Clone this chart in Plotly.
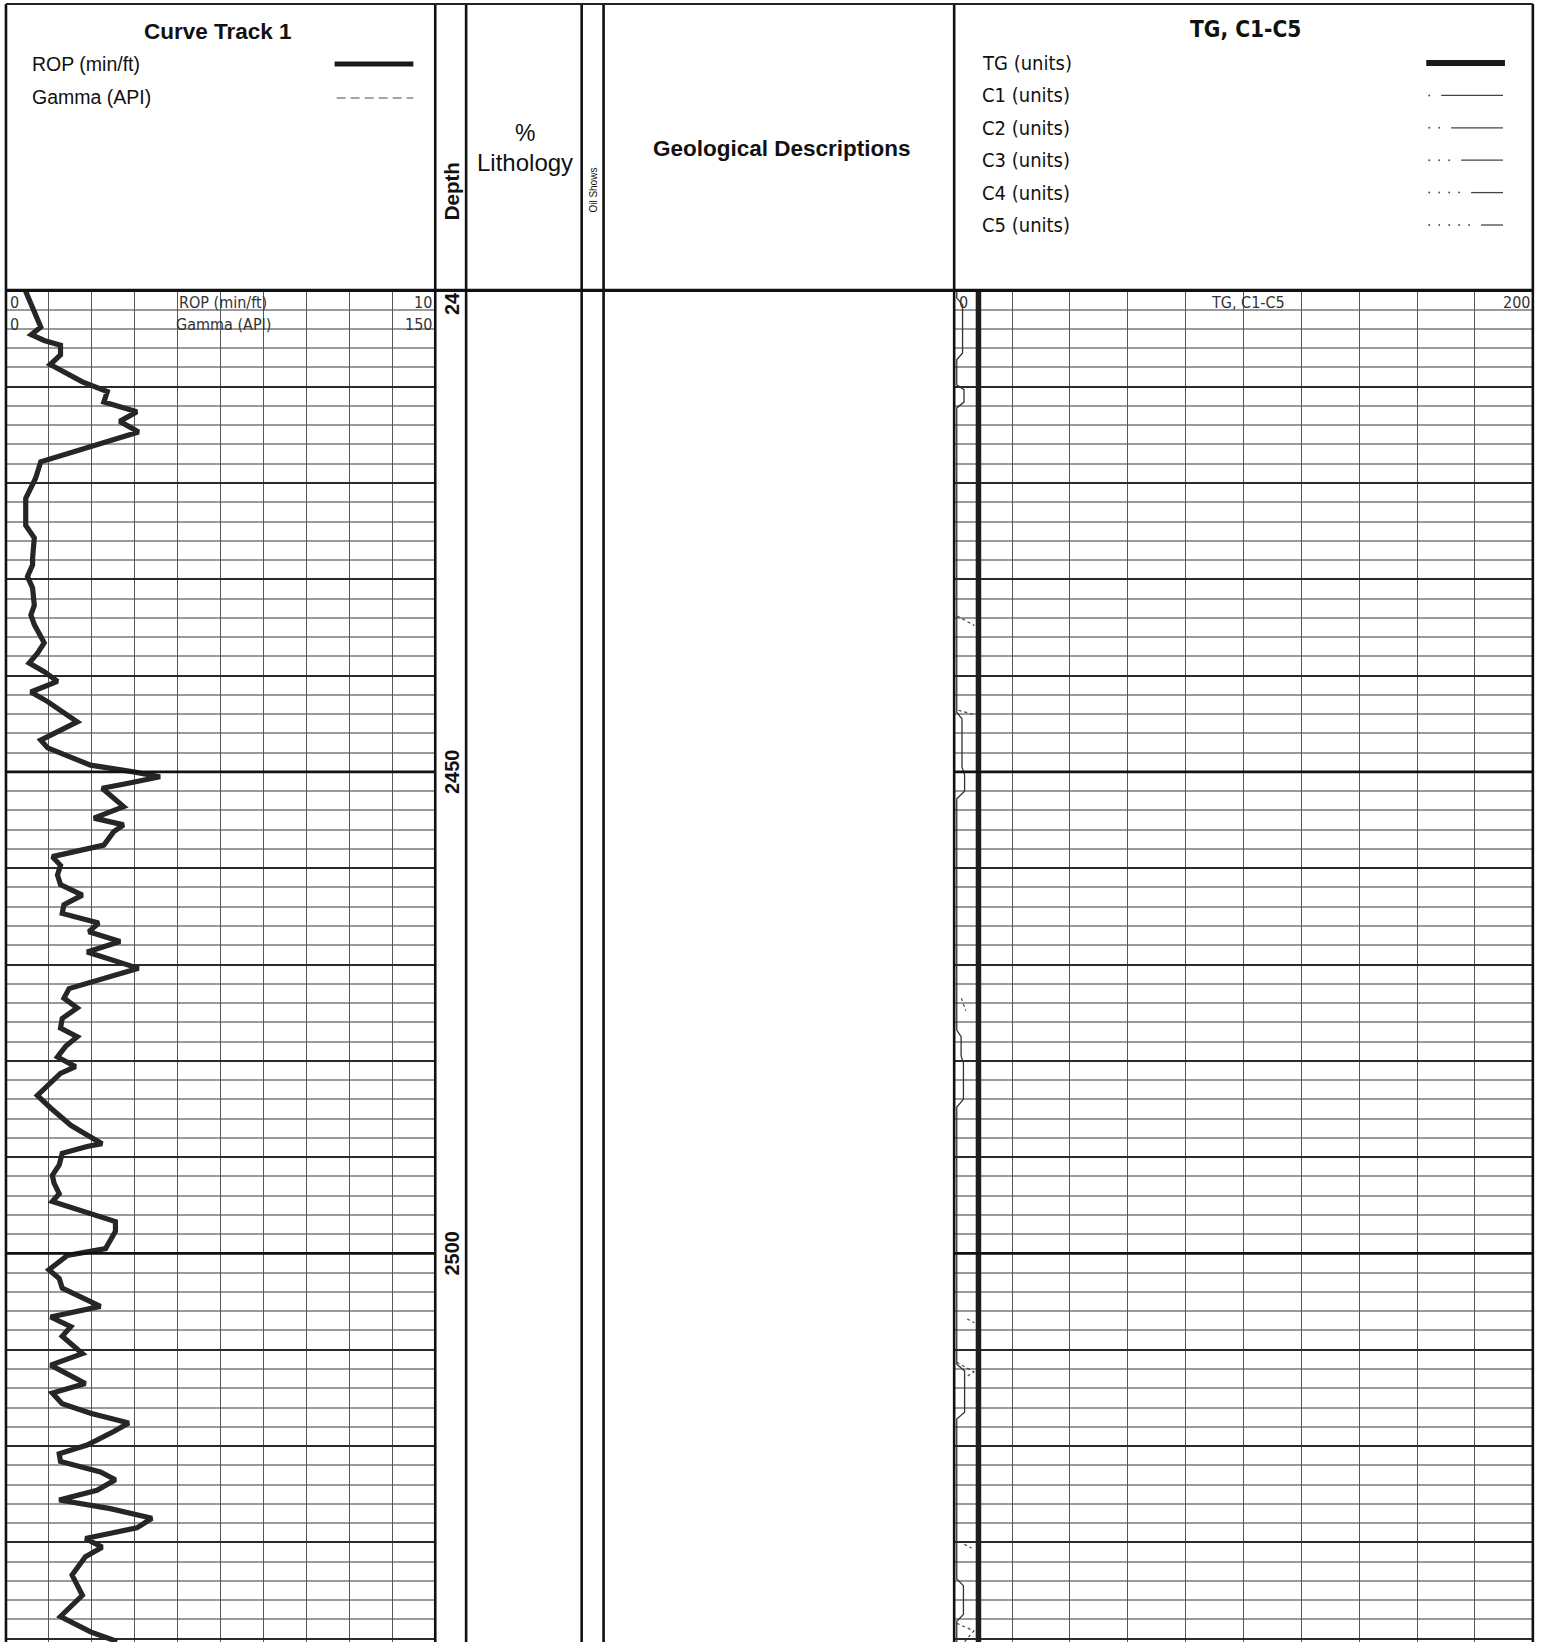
import plotly.graph_objects as go

W, H = 1543, 1642

# ---------------- data ----------------
ROP_DEPTH = [2400.0, 2401.9, 2402.9, 2403.8, 2404.6, 2405.2, 2405.7, 2406.7, 2407.7, 2409.5,
             2410.5, 2411.6, 2412.6, 2413.6, 2414.7, 2417.8, 2419.5, 2421.6, 2424.4, 2425.7,
             2427.8, 2428.5, 2429.7, 2430.9, 2432.7, 2433.7, 2434.7, 2436.6, 2437.7, 2438.7,
             2439.6, 2440.6, 2441.7, 2442.7, 2444.8, 2446.7, 2447.5, 2449.3, 2450.0, 2450.5,
             2451.2, 2451.7, 2453.6, 2454.8, 2455.5, 2456.2, 2457.6, 2458.8, 2459.7, 2460.7,
             2461.7, 2462.8, 2463.8, 2464.7, 2465.7, 2466.6, 2467.6, 2468.7, 2470.4, 2472.5,
             2473.5, 2474.5, 2475.6, 2476.6, 2477.5, 2478.5, 2479.6, 2480.6, 2481.3, 2483.6,
             2484.9, 2486.7, 2487.5, 2488.6, 2488.9, 2489.6, 2490.8, 2491.9, 2492.7, 2493.8,
             2494.6, 2496.7, 2497.7, 2499.5, 2500.2, 2501.7, 2502.6, 2503.6, 2505.5, 2506.6,
             2507.6, 2508.6, 2510.4, 2511.6, 2513.5, 2514.5, 2515.6, 2516.6, 2517.6, 2518.5,
             2519.9, 2520.8, 2521.6, 2522.7, 2523.5, 2524.6, 2525.6, 2526.5, 2527.5, 2528.5,
             2529.6, 2530.5, 2531.5, 2533.4, 2535.5, 2537.7, 2539.3, 2540.3]
ROP_VALUE = [0.45, 0.62, 0.73, 0.81, 0.59, 0.89, 1.27, 1.27, 1.03, 1.78,
             2.36, 2.28, 3.05, 2.65, 3.09, 0.81, 0.69, 0.46, 0.46, 0.66,
             0.62, 0.62, 0.50, 0.62, 0.66, 0.58, 0.66, 0.89, 0.73, 0.54,
             0.89, 1.20, 0.58, 0.97, 1.66, 0.81, 0.97, 1.97, 2.97, 3.59,
             2.82, 2.24, 2.74, 2.05, 2.74, 2.51, 2.28, 1.08, 1.27, 1.20,
             1.27, 1.78, 1.35, 1.31, 2.16, 1.93, 2.66, 1.89, 3.09, 1.47,
             1.35, 1.66, 1.31, 1.27, 1.66, 1.39, 1.20, 1.62, 1.27, 0.73,
             1.04, 1.51, 1.81, 2.24, 1.89, 1.31, 1.24, 1.08, 1.12, 1.24,
             1.08, 2.55, 2.55, 2.32, 1.43, 1.00, 1.24, 1.31, 2.20, 1.04,
             1.51, 1.31, 1.78, 1.04, 1.85, 1.08, 1.31, 1.97, 2.86, 2.51,
             1.89, 1.24, 1.27, 2.20, 2.55, 2.12, 1.24, 2.43, 3.40, 3.05,
             1.85, 2.24, 1.85, 1.54, 1.78, 1.27, 1.97, 2.59]

TG_DEPTH = [2400, 2420, 2440, 2460, 2480, 2500, 2520, 2540.4]
TG_VALUE = [8.4, 8.4, 8.4, 8.4, 8.4, 8.4, 8.4, 8.4]

C1_DEPTH = [2400, 2400.8, 2401.5, 2406.5, 2407.2, 2409.8, 2410.3, 2411.6, 2412.2,
            2443.8, 2444.5, 2449.5, 2450.3, 2452.0, 2452.8, 2476.8, 2477.5, 2479.5,
            2480.2, 2484.0, 2484.8, 2511.5, 2512.2, 2516.5, 2517.2, 2533.8, 2534.5,
            2537.5, 2538.2, 2540.4]
C1_VALUE = [0.9, 0.9, 2.9, 2.9, 0.9, 0.9, 3.4, 3.4, 0.9,
            0.9, 2.7, 2.7, 3.6, 3.6, 0.9, 0.9, 2.4, 2.4,
            3.2, 3.2, 0.9, 0.9, 3.6, 3.6, 0.9, 0.9, 3.2,
            3.2, 0.9, 0.9]

C2_DEPTH = [2433.8, 2434.8, None, 2443.6, 2444.1, None, 2473.5, 2474.8, None,
            2506.8, 2507.2, None, 2511.3, 2512.3, 2513.0, None, 2530.2, 2530.6, None,
            2538.4, 2539.2, 2540.4]
C2_VALUE = [1.0, 7.0, None, 1.5, 7.5, None, 2.5, 4.0, None,
            4.5, 7.0, None, 0.9, 6.8, 3.4, None, 3.5, 6.0, None,
            0.9, 6.8, 3.4]

DEPTH_LABELS = [2450, 2500]
TG_LEGEND = ["TG (units)", "C1 (units)", "C2 (units)", "C3 (units)", "C4 (units)", "C5 (units)"]

ROP_RANGE = [0, 10]
GAMMA_RANGE = [0, 150]
GAS_RANGE = [0, 200]
DEPTH_TOP = 2400
DEPTH_BOTTOM = 2540.35

# ---------------- layout geometry (pixels) ----------------
SX = 0.996
TOP = 4
HEADER_BOTTOM = 290.4
X_LEFT = 6
X_CURVE_R = 437
X_DEPTH_R = 468
X_LITH_R = 584
X_OIL_R = 606
X_GEO_R = 958
X_RIGHT = 1539


def px(x):
    return x * SX / W


def py(y):
    return 1 - y / H


NARROW = "Liberation Sans Narrow, Arial Narrow, DejaVu Sans Condensed, Liberation Sans, Arial"
SANS = "Liberation Sans, Arial, Helvetica, sans-serif"

fig = go.Figure()

fig.add_trace(go.Scatter(x=ROP_VALUE, y=ROP_DEPTH, mode="lines",
                         line=dict(color="#262626", width=5.2), xaxis="x", yaxis="y",
                         showlegend=False, hoverinfo="skip"))
fig.add_trace(go.Scatter(x=TG_VALUE, y=TG_DEPTH, mode="lines",
                         line=dict(color="#1e1e1e", width=5.5), xaxis="x2", yaxis="y2",
                         showlegend=False, hoverinfo="skip"))
fig.add_trace(go.Scatter(x=C1_VALUE, y=C1_DEPTH, mode="lines",
                         line=dict(color="#333", width=1.3), xaxis="x2", yaxis="y2",
                         showlegend=False, hoverinfo="skip"))
fig.add_trace(go.Scatter(x=C2_VALUE, y=C2_DEPTH, mode="lines", connectgaps=False,
                         line=dict(color="#444", width=1.2, dash="3px,3px"), xaxis="x2", yaxis="y2",
                         showlegend=False, hoverinfo="skip"))

ydom = [0, py(HEADER_BOTTOM)]
yax_common = dict(domain=ydom, range=[DEPTH_BOTTOM, DEPTH_TOP], tick0=DEPTH_TOP, dtick=10,
                  showgrid=True, gridcolor="#2a2a2a", gridwidth=1.8,
                  minor=dict(dtick=2, showgrid=True, gridcolor="#9a9a9a", gridwidth=1.6),
                  showticklabels=False, ticks="", zeroline=False, showline=False, fixedrange=True)
xax_common = dict(showgrid=True, gridcolor="#555", gridwidth=1.2, showticklabels=False,
                  ticks="", zeroline=False, showline=False, fixedrange=True)

fig.update_layout(
    width=W, height=H, margin=dict(l=0, r=0, t=0, b=0),
    paper_bgcolor="white", plot_bgcolor="white",
    xaxis=dict(domain=[px(X_LEFT), px(X_CURVE_R)], range=ROP_RANGE, dtick=1, anchor="y", **xax_common),
    yaxis=dict(anchor="x", **yax_common),
    xaxis2=dict(domain=[px(X_GEO_R), px(X_RIGHT)], range=GAS_RANGE, dtick=20, anchor="y2", **xax_common),
    yaxis2=dict(anchor="x2", **yax_common),
)

shapes = []
# heavy 50-ft lines inside the grid tracks
for d in range(DEPTH_TOP + 50, int(DEPTH_BOTTOM) + 1, 50):
    for xr, yr in (("x domain", "y"), ("x2 domain", "y2")):
        shapes.append(dict(type="line", xref=xr, yref=yr, x0=0, x1=1, y0=d, y1=d,
                           line=dict(color="#111", width=2.6), layer="above"))

# frame: vertical separators
for xs in (X_LEFT, X_CURVE_R, X_DEPTH_R, X_LITH_R, X_OIL_R, X_GEO_R, X_RIGHT):
    shapes.append(dict(type="line", xref="paper", yref="paper", x0=px(xs), x1=px(xs),
                       y0=py(TOP), y1=0, line=dict(color="#111", width=2.6), layer="above"))
# header top / bottom
shapes.append(dict(type="line", xref="paper", yref="paper", x0=px(X_LEFT), x1=px(X_RIGHT),
                   y0=py(TOP), y1=py(TOP), line=dict(color="#222", width=2), layer="above"))
shapes.append(dict(type="line", xref="paper", yref="paper", x0=px(X_LEFT), x1=px(X_RIGHT),
                   y0=py(HEADER_BOTTOM), y1=py(HEADER_BOTTOM), line=dict(color="#111", width=3.2),
                   layer="above"))

# legend samples - curve track
shapes.append(dict(type="line", xref="paper", yref="paper", x0=px(336), x1=px(415), y0=py(64), y1=py(64),
                   line=dict(color="#1a1a1a", width=5)))
shapes.append(dict(type="line", xref="paper", yref="paper", x0=px(338), x1=px(415), y0=py(98), y1=py(98),
                   line=dict(color="#888", width=1.5, dash="9px,5px")))

# legend samples - gas track
leg_y0, leg_dy = 63, 32.4
shapes.append(dict(type="line", xref="paper", yref="paper", x0=px(1432), x1=px(1511),
                   y0=py(leg_y0), y1=py(leg_y0), line=dict(color="#1a1a1a", width=6)))
for i in range(1, 6):
    yy = leg_y0 + i * leg_dy
    line_start = 1435 + i * 10 + 2
    shapes.append(dict(type="line", xref="paper", yref="paper", x0=px(line_start), x1=px(1509),
                       y0=py(yy), y1=py(yy), line=dict(color="#444", width=1.3)))
    for k in range(i):
        xd = 1435 + k * 10
        shapes.append(dict(type="circle", xref="paper", yref="paper", x0=px(xd - 1), x1=px(xd + 1),
                           y0=py(yy + 1), y1=py(yy - 1), fillcolor="#555", line=dict(width=0)))

fig.update_layout(shapes=shapes)

ann = []


def text(x, y, s, size, bold=False, xanchor="center", family=SANS, angle=0, color="#111", yref="paper", yv=None,
         yanchor="middle"):
    ann.append(dict(x=px(x), y=(py(y) if yref == "paper" else yv), xref="paper", yref=yref,
                    text=(f"<b>{s}</b>" if bold else s), showarrow=False, xanchor=xanchor, yanchor=yanchor,
                    textangle=angle, font=dict(size=size, family=family, color=color)))


text(219, 31, "Curve Track 1", 22.5, bold=True)
text(30, 64, "ROP (min/ft)", 19.5, xanchor="left")
text(30, 97, "Gamma (API)", 19.5, xanchor="left")
text(453, 191, "Depth", 20.5, bold=True, angle=-90)
text(527, 133, "%", 23)
text(527, 162, "Lithology", 24)
text(596, 190, "Oil Shows", 10, angle=-90, family=SANS)
text(785, 148, "Geological Descriptions", 22.5, bold=True)
text(1250, 29, "TG, C1-C5", 22.5, bold=True, family=NARROW)
for i, lab in enumerate(TG_LEGEND):
    text(984, leg_y0 + i * leg_dy, lab, 20, xanchor="left", family=NARROW)

# in-track scale headers
text(8, 302, "0", 16, xanchor="left", family=NARROW, color="#333")
text(224, 302, "ROP (min/ft)", 16, family=NARROW, color="#333")
text(436, 302, str(ROP_RANGE[1]), 16, xanchor="right", family=NARROW, color="#333")
text(8, 324, "0", 16, xanchor="left", family=NARROW, color="#333")
text(224, 324, "Gamma (API)", 16, family=NARROW, color="#333")
text(436, 324, str(GAMMA_RANGE[1]), 16, xanchor="right", family=NARROW, color="#333")
text(961, 302, "0", 16, xanchor="left", family=NARROW, color="#333")
text(1253, 302, "TG, C1-C5", 16, family=NARROW, color="#333")
text(1538, 302, str(GAS_RANGE[1]), 16, xanchor="right", family=NARROW, color="#333")

# depth labels
for d in DEPTH_LABELS:
    text(454, 0, str(d), 20, bold=True, angle=-90, yref="y", yv=d)
text(454, 0, str(DEPTH_TOP)[:2], 20, bold=True, angle=-90, yref="y", yv=DEPTH_TOP, yanchor="top")

fig.update_layout(annotations=ann)

fig.write_html("out.html", config={"displayModeBar": False},
               post_script="document.body.style.margin='0';document.body.style.overflow='hidden';")
